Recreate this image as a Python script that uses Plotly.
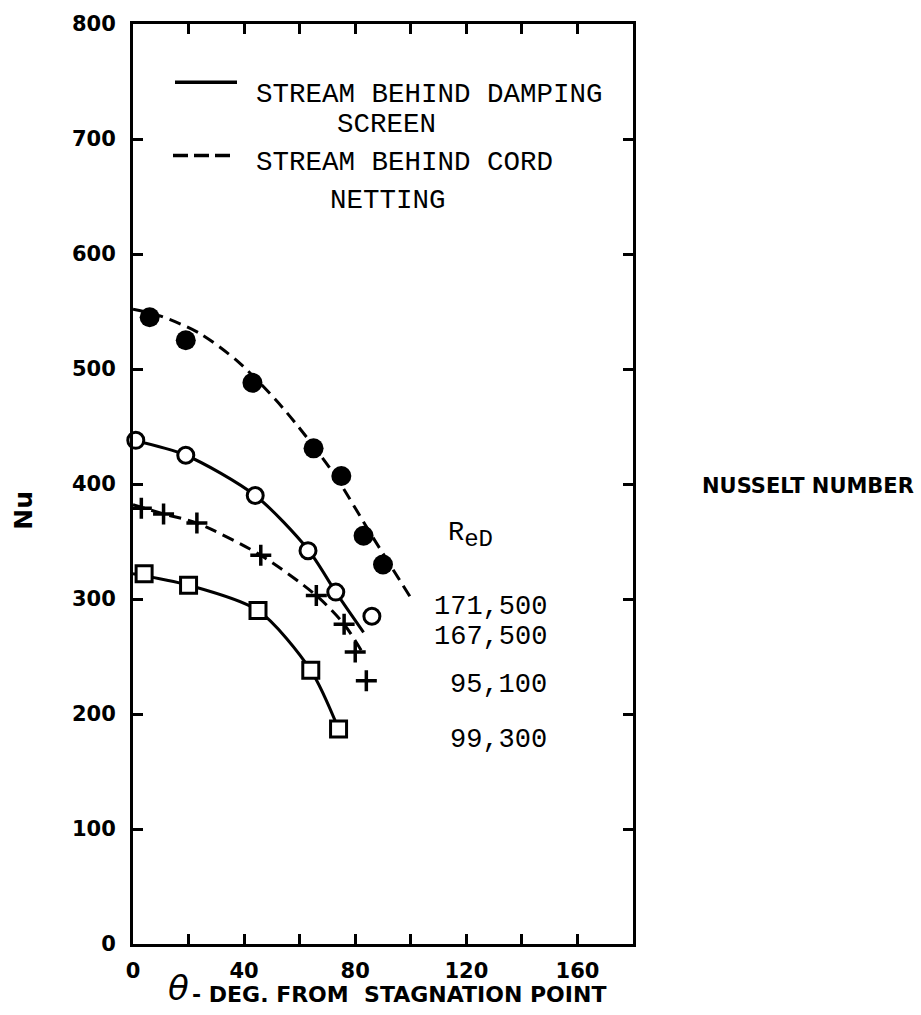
import plotly.graph_objects as go

# ---------------- data ----------------
# Stream behind cord netting, Re_D = 171,500 (filled circles, dashed)
filled_theta = [6, 19, 43, 65, 75, 83, 90]
filled_nu = [545, 525, 488, 431, 407, 355, 330]
filled_curve_theta = [0, 10, 24, 38, 54, 72, 86, 100]
filled_curve_nu = [552, 546, 531, 506, 466, 410, 355, 301]

# Stream behind damping screen, Re_D = 167,500 (open circles, solid)
open_theta = [1, 19, 44, 63, 73, 86]
open_nu = [438, 425, 390, 342, 306, 285]
open_curve_theta = [0, 19, 44, 63, 73, 83]
open_curve_nu = [438, 425, 390, 343, 306, 271]

# Stream behind cord netting, Re_D = 95,100 (plus signs, dashed)
plus_theta = [3, 11, 23, 46, 66, 76, 80, 84]
plus_nu = [379, 374, 366, 338, 303, 278, 254, 229]
plus_curve_theta = [0, 11, 23, 46, 66, 76, 83]
plus_curve_nu = [382, 374, 366, 338, 303, 278, 252]

# Stream behind damping screen, Re_D = 99,300 (open squares, solid)
square_theta = [4, 20, 45, 64, 74]
square_nu = [322, 312, 290, 238, 187]
square_curve_theta = [0, 20, 45, 64, 74]
square_curve_nu = [322, 312, 290, 238, 187]

re_labels = ["171,500", "167,500", "95,100", "99,300"]

x_tickvals = [0, 40, 80, 120, 160]
x_ticktext = ["0", "40", "80", "120", "160"]
x_minor_tickvals = [20, 60, 100, 140]
y_tickvals = [0, 100, 200, 300, 400, 500, 600, 700, 800]
y_ticktext = ["0", "100", "200", "300", "400", "500", "600", "700", "800"]

legend_labels = ["STREAM BEHIND DAMPING", "SCREEN", "STREAM BEHIND CORD", "NETTING"]

# ---------------- layout geometry ----------------
W, H = 921, 1015
L, R, T, B = 133, 633, 14, 944  # plot area in pixels


def px(xpix):
    return (xpix - L) / (R - L)


def py(ypix):
    return (B - ypix) / (B - T)


BLACK = "black"
MONO = "Liberation Mono, Courier New, monospace"
BOLD = "DejaVu Sans, Verdana, sans-serif"

fig = go.Figure()

# curves
fig.add_trace(go.Scatter(x=filled_curve_theta, y=filled_curve_nu, mode="lines",
                         line=dict(color=BLACK, width=3, dash="12px,7px", shape="spline", smoothing=0.8),
                         hoverinfo="skip", showlegend=False))
fig.add_trace(go.Scatter(x=open_curve_theta, y=open_curve_nu, mode="lines",
                         line=dict(color=BLACK, width=3, shape="spline", smoothing=0.8),
                         hoverinfo="skip", showlegend=False))
fig.add_trace(go.Scatter(x=plus_curve_theta, y=plus_curve_nu, mode="lines",
                         line=dict(color=BLACK, width=3, dash="12px,7px", shape="spline", smoothing=0.8),
                         hoverinfo="skip", showlegend=False))
fig.add_trace(go.Scatter(x=square_curve_theta, y=square_curve_nu, mode="lines",
                         line=dict(color=BLACK, width=3, shape="spline", smoothing=0.8),
                         hoverinfo="skip", showlegend=False))

# markers
fig.add_trace(go.Scatter(x=filled_theta, y=filled_nu, mode="markers",
                         marker=dict(symbol="circle", size=20, color=BLACK, line=dict(width=0)),
                         showlegend=False, cliponaxis=False))
fig.add_trace(go.Scatter(x=open_theta, y=open_nu, mode="markers",
                         marker=dict(symbol="circle", size=16, color="white", line=dict(width=3, color=BLACK)),
                         showlegend=False, cliponaxis=False))
fig.add_trace(go.Scatter(x=plus_theta, y=plus_nu, mode="markers",
                         marker=dict(symbol="cross-thin-open", size=15, color=BLACK, line=dict(width=3.5, color=BLACK)),
                         showlegend=False, cliponaxis=False))
fig.add_trace(go.Scatter(x=square_theta, y=square_nu, mode="markers",
                         marker=dict(symbol="square", size=16, color="white", line=dict(width=3, color=BLACK)),
                         showlegend=False, cliponaxis=False))

# legend samples
fig.add_shape(type="line", xref="paper", yref="paper", x0=px(175), x1=px(237), y0=py(73), y1=py(73),
              line=dict(color=BLACK, width=3.5))
fig.add_shape(type="line", xref="paper", yref="paper", x0=px(173), x1=px(233), y0=py(147), y1=py(147),
              line=dict(color=BLACK, width=3.5, dash="15px,6px"))

ann = []
ann.append(dict(text=legend_labels[0], x=px(254), y=py(85), xanchor="left", yanchor="middle",
                font=dict(family=MONO, size=27.5, color=BLACK)))
ann.append(dict(text=legend_labels[1], x=px(386), y=py(116), xanchor="center", yanchor="middle",
                font=dict(family=MONO, size=27.5, color=BLACK)))
ann.append(dict(text=legend_labels[2], x=px(254), y=py(154), xanchor="left", yanchor="middle",
                font=dict(family=MONO, size=27.5, color=BLACK)))
ann.append(dict(text=legend_labels[3], x=px(388), y=py(192), xanchor="center", yanchor="middle",
                font=dict(family=MONO, size=27.5, color=BLACK)))

# Reynolds number labels
ann.append(dict(text="R<sub><span style='font-size:24px'>eD</span></sub>", x=px(446), y=py(531),
                xanchor="left", yanchor="middle",
                font=dict(family=MONO, size=27, color=BLACK)))
for lbl, ypix in zip(re_labels, [603, 634, 682, 738]):
    ann.append(dict(text=lbl, x=px(549), y=py(ypix), xanchor="right", yanchor="middle",
                    font=dict(family=MONO, size=27, color=BLACK)))

# axis titles
ann.append(dict(text="Nu", x=px(24), y=py(506), xanchor="center", yanchor="middle", textangle=-90,
                font=dict(family=BOLD, size=25, color=BLACK, weight="bold")))
ann.append(dict(text="NUSSELT NUMBER", x=px(916), y=py(481), xanchor="right", yanchor="middle",
                font=dict(family=BOLD, size=21, color=BLACK, weight="bold")))
ann.append(dict(text="θ", x=px(178), y=py(988), xanchor="center", yanchor="middle",
                font=dict(family="DejaVu Sans, sans-serif", size=34, color=BLACK, style="italic")))
ann.append(dict(text="- DEG. FROM  STAGNATION POINT", x=px(190), y=py(995), xanchor="left", yanchor="middle",
                font=dict(family=BOLD, size=22, color=BLACK, weight="bold")))

for a in ann:
    a.update(xref="paper", yref="paper", showarrow=False)
fig.update_layout(annotations=ann)

axis_common = dict(showline=True, linewidth=3, linecolor=BLACK, mirror="ticks",
                   ticks="inside", ticklen=10, tickwidth=2.5, tickcolor=BLACK,
                   showgrid=False, zeroline=False,
                   tickfont=dict(family=BOLD, size=21, color=BLACK, weight="bold"))

fig.update_xaxes(range=[0, 180], tickmode="array", tickvals=x_tickvals, ticktext=x_ticktext,
                 minor=dict(tickmode="array", tickvals=x_minor_tickvals, ticks="inside", ticklen=10,
                            tickwidth=2.5, tickcolor=BLACK, showgrid=False),
                 ticklabelstandoff=6, **axis_common)
fig.update_yaxes(range=[0, 800], tickmode="array", tickvals=y_tickvals, ticktext=y_ticktext,
                 ticklabelstandoff=10, **axis_common)

fig.update_layout(width=W, height=H,
                  margin=dict(l=L, r=W - R, t=T, b=H - B, pad=0),
                  plot_bgcolor="white", paper_bgcolor="white",
                  showlegend=False)

fig.write_html("out.html")
